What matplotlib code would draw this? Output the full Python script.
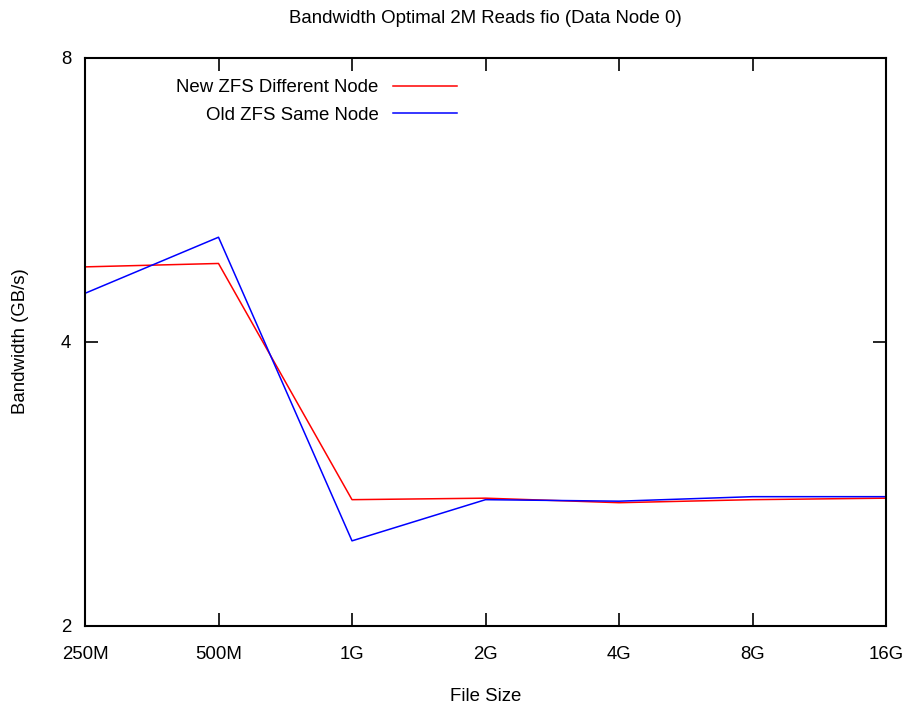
import matplotlib
matplotlib.use("Agg")
import matplotlib.pyplot as plt
from matplotlib.ticker import FixedLocator, NullLocator

# data (GB/s)
file_sizes = ["250M", "500M", "1G", "2G", "4G", "8G", "16G"]
new_zfs_diff_node = [4.80, 4.84, 2.72, 2.73, 2.70, 2.72, 2.73]
old_zfs_same_node = [4.50, 5.16, 2.46, 2.72, 2.71, 2.74, 2.74]
y_ticks = [2, 4, 8]

FS = 13.4
plt.rcParams["font.family"] = ["Liberation Sans", "DejaVu Sans"]
plt.rcParams["font.size"] = FS

fig = plt.figure(figsize=(9.06, 7.06), dpi=100)
ax = fig.add_axes([85 / 906, 1 - 625.7 / 706, 801 / 906, 568.2 / 706])

x = list(range(len(file_sizes)))
ax.plot(x, new_zfs_diff_node, color="#ff0000", lw=1.1, label="New ZFS Different Node")
ax.plot(x, old_zfs_same_node, color="#0000ff", lw=1.1, label="Old ZFS Same Node")

ax.set_yscale("log", base=2)
ax.set_ylim(2, 8)
ax.yaxis.set_major_locator(FixedLocator(y_ticks))
ax.yaxis.set_minor_locator(NullLocator())
ax.set_yticklabels([str(v) for v in y_ticks])
ax.set_xlim(0, len(file_sizes) - 1)
ax.set_xticks(x)
ax.set_xticklabels(file_sizes)

for s in ax.spines.values():
    s.set_linewidth(1.5)
ax.tick_params(axis="both", direction="in", length=9.5, width=1.2,
               top=True, right=True, labelsize=FS)
ax.tick_params(axis="x", pad=14.5)
ax.tick_params(axis="y", pad=10)

ax.set_title("Bandwidth Optimal 2M Reads fio (Data Node 0)", fontsize=FS, pad=25)
ax.set_xlabel("File Size", fontsize=FS, labelpad=18)
ax.set_ylabel("Bandwidth (GB/s)", fontsize=FS, labelpad=23)

ax.legend(loc="upper right", bbox_to_anchor=(0.464, 0.962), frameon=False,
          markerfirst=False, handlelength=3.44, handletextpad=0.75,
          labelspacing=0.57, borderaxespad=0, borderpad=0, fontsize=FS)

fig.savefig("out.png", dpi=100)
